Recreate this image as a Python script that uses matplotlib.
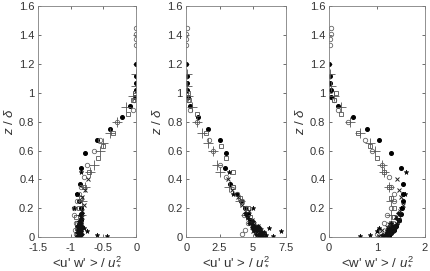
import matplotlib.pyplot as plt

plt.rcParams['font.family'] = ['Liberation Sans', 'DejaVu Sans']
plt.rcParams['mathtext.fontset'] = 'custom'
plt.rcParams['mathtext.rm'] = 'Liberation Sans'
plt.rcParams['mathtext.it'] = 'Liberation Sans:italic'

# dataset 1: filled black circles
z1 = [0.01, 0.03, 0.05, 0.08, 0.12, 0.16, 0.2, 0.25, 0.3, 0.37, 0.48, 0.58, 0.67, 0.75, 0.83, 0.91, 0.97, 1.02, 1.07, 1.12, 1.2]
uw1 = [-0.88, -0.87, -0.86, -0.86, -0.85, -0.84, -0.84, -0.88, -0.9, -0.86, -0.84, -0.78, -0.6, -0.4, -0.22, -0.1, -0.02, 0, 0, 0, 0]
uu1 = [5.6, 5.5, 5.3, 5.1, 4.8, 4.6, 4.4, 4.1, 3.8, 3.3, 2.9, 3.0, 2.5, 1.6, 0.9, 0.3, 0.1, 0.05, 0.05, 0.05, 0.0]
ww1 = [1.25, 1.3, 1.35, 1.4, 1.45, 1.5, 1.52, 1.55, 1.55, 1.55, 1.5, 1.3, 1.05, 0.8, 0.5, 0.2, 0.05, 0.05, 0.02, 0.02, 0.0]

# dataset 2: open circles
z2 = [0.02, 0.05, 0.1, 0.15, 0.2, 0.25, 0.3, 0.35, 0.42, 0.5, 0.6, 0.67, 0.8, 0.88, 0.95, 1.33, 1.37, 1.41, 1.45]
uw2 = [-0.92, -0.93, -0.92, -0.95, -0.95, -0.9, -0.87, -0.85, -0.8, -0.75, -0.65, -0.55, -0.3, -0.05, -0.03, 0, 0, 0, 0]
uu2 = [4.2, 4.4, 4.6, 4.3, 4.5, 4.2, 3.8, 3.5, 3.0, 2.5, 2.0, 1.7, 0.8, 0.3, 0.1, 0.0, 0.0, 0.02, 0.05]
ww2 = [1.0, 1.05, 1.15, 1.2, 1.3, 1.35, 1.35, 1.3, 1.25, 1.1, 0.9, 0.75, 0.4, 0.2, 0.1, 0.03, 0.03, 0.05, 0.05]

# dataset 3: open squares
z3 = [0.02, 0.06, 0.1, 0.14, 0.2, 0.27, 0.35, 0.45, 0.55, 0.63, 0.72, 0.85, 0.95, 1.0]
uw3 = [-0.9, -0.9, -0.91, -0.92, -0.88, -0.84, -0.8, -0.72, -0.58, -0.5, -0.35, -0.12, -0.05, -0.02]
uu3 = [5.5, 5.2, 5.0, 4.8, 4.6, 4.0, 3.5, 3.5, 3.0, 2.6, 1.5, 0.8, 0.2, 0.1]
ww3 = [1.2, 1.25, 1.3, 1.35, 1.35, 1.3, 1.25, 1.15, 1.0, 0.85, 0.6, 0.25, 0.1, 0.15]

# dataset 4: plus
z4 = [0.15, 0.25, 0.35, 0.45, 0.5, 0.6, 0.65, 0.72, 0.8, 0.9, 0.98, 1.05, 1.13]
uw4 = [-0.85, -0.82, -0.78, -0.7, -0.65, -0.55, -0.5, -0.4, -0.3, -0.15, -0.05, 0, 0]
uu4 = [4.5, 4.0, 3.2, 2.5, 2.3, 2.0, 1.6, 1.2, 0.8, 0.4, 0.15, 0.05, 0.05]
ww4 = [1.3, 1.3, 1.25, 1.15, 1.1, 0.95, 0.85, 0.65, 0.45, 0.25, 0.1, 0.05, 0.02]

# dataset 5: small crosses near the wall
z5 = [0.005, 0.01, 0.02, 0.03, 0.04, 0.05, 0.06, 0.07, 0.08, 0.09, 0.1, 0.12, 0.14, 0.18, 0.22, 0.28, 0.33, 0.4]
uw5 = [-0.88, -0.86, -0.9, -0.85, -0.88, -0.87, -0.9, -0.86, -0.84, -0.89, -0.87, -0.85, -0.83, -0.82, -0.8, -0.83, -0.78, -0.74]
uu5 = [5.7, 5.2, 5.5, 5.8, 5.0, 5.6, 5.3, 4.9, 5.4, 5.1, 4.8, 4.9, 4.6, 4.7, 4.2, 3.9, 3.4, 3.1]
ww5 = [1.05, 1.1, 1.15, 1.2, 1.25, 1.1, 1.3, 1.2, 1.35, 1.25, 1.4, 1.45, 1.4, 1.48, 1.55, 1.5, 1.45, 1.42]

# dataset 6: stars
z6 = [0.01, 0.015, 0.04, 0.06, 0.2, 0.3, 0.45]
uw6 = [-0.45, -0.6, -0.75, -0.8, -0.95, -0.9, -0.85]
uu6 = [6.5, 6.0, 7.1, 6.2, 5.0, 3.5, 3.2]
ww6 = [0.65, 0.85, 1.0, 1.05, 1.5, 1.58, 1.6]

# dataset 7: dense small filled markers close to the wall
z7 = [0.005, 0.01, 0.015, 0.02, 0.025, 0.03, 0.035, 0.04, 0.045, 0.05, 0.055, 0.06, 0.065, 0.07, 0.075, 0.08, 0.09, 0.1, 0.11, 0.13, 0.15, 0.17]
uw7 = [-0.87, -0.9, -0.85, -0.88, -0.83, -0.86, -0.91, -0.84, -0.87, -0.89, -0.85, -0.82, -0.88, -0.86, -0.9, -0.83, -0.87, -0.85, -0.88, -0.84, -0.86, -0.82]
uu7 = [5.6, 5.9, 5.4, 5.7, 5.2, 5.5, 5.8, 5.1, 5.6, 5.3, 5.0, 5.5, 5.2, 4.9, 5.4, 5.1, 4.9, 4.7, 5.0, 4.6, 4.5, 4.4]
ww7 = [1.15, 1.2, 1.1, 1.25, 1.18, 1.3, 1.22, 1.28, 1.35, 1.2, 1.3, 1.38, 1.25, 1.4, 1.32, 1.36, 1.42, 1.3, 1.45, 1.4, 1.48, 1.44]

xlims = [(-1.5, 0), (0, 7.5), (0, 2)]
xticks = [[-1.5, -1, -0.5, 0], [0, 2.5, 5, 7.5], [0, 1, 2]]
xticklabels = [['-1.5', '-1', '-0.5', '0'], ['0', '2.5', '5', '7.5'], ['0', '1', '2']]
xlabels = ["<u' w' > / $u_*^2$", "<u' u' > / $u_*^2$", "<w' w' > / $u_*^2$"]
yticks = [0, 0.2, 0.4, 0.6, 0.8, 1, 1.2, 1.4, 1.6]
yticklabels = ['0', '0.2', '0.4', '0.6', '0.8', '1', '1.2', '1.4', '1.6']

panels = [
    [uw1, uw2, uw3, uw4, uw5, uw6, uw7],
    [uu1, uu2, uu3, uu4, uu5, uu6, uu7],
    [ww1, ww2, ww3, ww4, ww5, ww6, ww7],
]
zs = [z1, z2, z3, z4, z5, z6, z7]

fig = plt.figure(figsize=(4.31, 2.71), dpi=100)
lefts = [0.088, 0.432, 0.763]
widths = [0.228, 0.232, 0.223]
grey = '#7f7f7f'
for p in range(3):
    ax = fig.add_axes([lefts[p], 0.125, widths[p], 0.852])
    xs = panels[p]
    ax.plot(xs[0], zs[0], 'o', ms=2.6, color='black', mec='black')
    ax.plot(xs[1], zs[1], 'o', ms=3.2, mfc='none', mec='#666666', mew=0.6)
    ax.plot(xs[2], zs[2], 's', ms=2.8, mfc='none', mec='#555555', mew=0.6)
    ax.plot(xs[3], zs[3], '+', ms=7, color='#555555', mew=0.6)
    ax.plot(xs[4], zs[4], 'x', ms=3, color='#222222', mew=0.7)
    ax.plot(xs[5], zs[5], '*', ms=3.5, color='black', mew=0.4)
    ax.plot(xs[6], zs[6], 'D', ms=2.2, color='#111111', mew=0.3)
    ax.set_xlim(xlims[p])
    ax.set_ylim(0, 1.6)
    ax.set_xticks(xticks[p])
    ax.set_xticklabels(xticklabels[p])
    ax.set_yticks(yticks)
    ax.set_yticklabels(yticklabels)
    ax.tick_params(direction='in', length=2.5, width=0.5, labelsize=8,
                   colors='#333333', top=True, right=True)
    ax.tick_params(axis='x', pad=4)
    ax.tick_params(axis='y', pad=2.5)
    for s in ax.spines.values():
        s.set_color(grey)
        s.set_linewidth(0.6)
    ax.set_xlabel(xlabels[p], fontsize=9.5, color='#333333', labelpad=2)
    ax.set_ylabel('$z$ / $\\delta$', fontsize=9.5, color='#333333', labelpad=2)

fig.savefig('out.png', dpi=100)
